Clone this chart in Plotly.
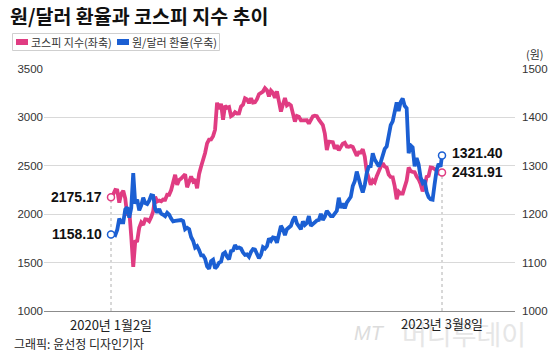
import pandas as pd
import plotly.graph_objects as go

# ---------------- data (weekly readings, 2020-01-02 .. 2023-03-08) ----------------
kospi_2020 = [2175.17, 2206, 2250, 2246, 2119,
              2212, 2243, 2162, 1987,
              2040, 1771, 1457, 1717,
              1725, 1860, 1914, 1889,
              1947, 1945, 1927, 1970, 2030,
              2181, 2132, 2141, 2134,
              2152, 2150, 2201, 2200, 2249,
              2351, 2407, 2304, 2353,
              2368, 2397, 2412, 2278,
              2327, 2391, 2341, 2360, 2267,
              2416, 2493, 2553, 2633,
              2731, 2770, 2772, 2806, 2873]
kospi_2021 = [3152, 3085, 3140, 2976,
              3120, 3100, 3107, 3013,
              3026, 3054, 3039, 3041,
              3112, 3131, 3198, 3186, 3147,
              3197, 3153, 3156, 3188,
              3240, 3249, 3267, 3302,
              3281, 3217, 3276, 3254, 3202,
              3270, 3171, 3060, 3133,
              3201, 3125, 3140, 3125,
              3019, 2956, 3015, 3006, 2970,
              2969, 2968, 2971, 2936,
              2968, 3010, 3017, 3012, 2977]
kospi_2022 = [2954, 2921, 2834, 2663,
              2750, 2747, 2744, 2676,
              2713, 2661, 2707, 2729,
              2739, 2700, 2696, 2704, 2695,
              2644, 2604, 2639, 2638,
              2670, 2595, 2440, 2366,
              2305, 2350, 2330, 2393, 2451,
              2490, 2527, 2492, 2481,
              2409, 2384, 2382, 2290, 2155,
              2232, 2212, 2213, 2268,
              2348, 2483, 2444, 2437,
              2434, 2389, 2360, 2313, 2236]
kospi_2023 = [2289, 2386, 2395, 2484,
              2480, 2469, 2451, 2423,
              2432, 2431.91]

usd_2020 = [1158.10, 1159, 1157, 1168, 1191,
            1183, 1183, 1210, 1214,
            1193, 1213, 1285, 1222,
            1230, 1208, 1218, 1234,
            1223, 1221, 1228, 1239, 1238,
            1211, 1203, 1211, 1201,
            1199, 1196, 1203, 1199, 1191,
            1185, 1186, 1187, 1187,
            1188, 1186, 1169, 1172,
            1169, 1153, 1145, 1131, 1134,
            1126, 1115, 1115, 1108,
            1092, 1087, 1103, 1106, 1088]
usd_2021 = [1092, 1100, 1102, 1118,
            1121, 1112, 1107, 1124,
            1125, 1136, 1130, 1131,
            1129, 1121, 1116, 1117, 1112,
            1122, 1128, 1127, 1115,
            1109, 1116, 1132, 1129,
            1134, 1150, 1145, 1152, 1151,
            1141, 1164, 1176, 1169,
            1157, 1169, 1174, 1176,
            1188, 1195, 1181, 1175, 1169,
            1185, 1178, 1182, 1196,
            1176, 1180, 1184, 1187, 1188]
usd_2022 = [1201, 1188, 1195, 1207,
            1201, 1196, 1196, 1202,
            1207, 1234, 1213, 1222,
            1212, 1224, 1229, 1236, 1258,
            1268, 1288, 1270, 1258,
            1245, 1260, 1285, 1298,
            1299, 1326, 1313, 1305, 1299,
            1307, 1320, 1335, 1340,
            1362, 1384, 1392, 1409, 1431,
            1413, 1432, 1439, 1424,
            1419, 1326, 1342, 1338,
            1299, 1316, 1303, 1276, 1265]
usd_2023 = [1270, 1246, 1235, 1231,
            1230, 1262, 1291, 1304,
            1298, 1321.40]

kospi = kospi_2020 + kospi_2021 + kospi_2022 + kospi_2023
usd = usd_2020 + usd_2021 + usd_2022 + usd_2023

start_date = "2020-01-02"
end_date = "2023-03-08"
fridays = list(pd.date_range("2020-01-03", "2023-03-03", freq="W-FRI"))
dates = [pd.Timestamp(start_date)] + fridays[1:] + [pd.Timestamp(end_date)]
n = min(len(dates), len(kospi), len(usd))
dates, kospi, usd = dates[:n], kospi[:n], usd[:n]

left_ticks = [1000, 1500, 2000, 2500, 3000, 3500]
right_ticks = [1000, 1100, 1200, 1300, 1400, 1500]

kospi_name = "코스피 지수(좌축)"
usd_name = "원/달러 환율(우축)"
title_text = "원/달러 환율과 코스피 지수 추이"

PINK = "#E03C82"
BLUE = "#1B5FD3"

# ---------------- geometry helpers ----------------
W, H = 560, 358
L, R, T, B = 44, 45, 69, 47
PW, PH = W - L - R, H - T - B


def px(X):
    return (X - L) / PW


def py(Y):
    return (H - B - Y) / PH


fig = go.Figure()

fig.add_trace(go.Scatter(x=dates, y=kospi, mode="lines", name=kospi_name,
                         line=dict(color=PINK, width=3.8), yaxis="y",
                         showlegend=False))
fig.add_trace(go.Scatter(x=dates, y=usd, mode="lines", name=usd_name,
                         line=dict(color=BLUE, width=3.8), yaxis="y2",
                         showlegend=False))
# end-point markers
fig.add_trace(go.Scatter(x=[dates[0], dates[-1]], y=[kospi[0], kospi[-1]], mode="markers",
                         marker=dict(size=7, color="white", line=dict(color=PINK, width=1.5)),
                         yaxis="y", showlegend=False, hoverinfo="skip"))
fig.add_trace(go.Scatter(x=[dates[0], dates[-1]], y=[usd[0], usd[-1]], mode="markers",
                         marker=dict(size=7, color="white", line=dict(color=BLUE, width=1.5)),
                         yaxis="y2", showlegend=False, hoverinfo="skip"))

shapes = []
# dashed drop lines
for d, v in [(dates[0], kospi[0]), (dates[-1], kospi[-1])]:
    shapes.append(dict(type="line", xref="x", yref="y", x0=d, x1=d, y0=1000, y1=v,
                       line=dict(color="#b0b0b0", width=1, dash="3px,3px"), layer="below"))
# legend box
shapes.append(dict(type="rect", xref="paper", yref="paper", x0=px(12.5), x1=px(219.5),
                   y0=py(50.5), y1=py(33.5), line=dict(color="#cfcfcf", width=1),
                   fillcolor="white"))
shapes.append(dict(type="rect", xref="paper", yref="paper", x0=px(16), x1=px(28),
                   y0=py(45), y1=py(39), line=dict(width=0), fillcolor=PINK))
shapes.append(dict(type="rect", xref="paper", yref="paper", x0=px(117), x1=px(129),
                   y0=py(45), y1=py(39), line=dict(width=0), fillcolor=BLUE))

KR = "Noto Sans CJK KR"
NUM = "Liberation Sans"

ann = []
# watermark
ann.append(dict(text="<i>MT</i>", xref="paper", yref="paper", x=px(352), y=py(333),
                xanchor="left", yanchor="middle", showarrow=False,
                font=dict(family=NUM, size=20, color="#dcdcdc")))
ann.append(dict(text="머니투데이", xref="paper", yref="paper", x=px(400), y=py(333),
                xanchor="left", yanchor="middle", showarrow=False,
                font=dict(family=KR, size=27, color="#e6e6e6")))
# legend texts
ann.append(dict(text=kospi_name, xref="paper", yref="paper", x=px(29), y=py(42),
                xanchor="left", yanchor="middle", showarrow=False,
                font=dict(family=KR, size=11, color="#333")))
ann.append(dict(text=usd_name, xref="paper", yref="paper", x=px(130), y=py(42),
                xanchor="left", yanchor="middle", showarrow=False,
                font=dict(family=KR, size=11, color="#333")))
# unit
ann.append(dict(text="(원)", xref="paper", yref="paper", x=px(535), y=py(54),
                xanchor="center", yanchor="middle", showarrow=False,
                font=dict(family=KR, size=11, color="#333")))
# value labels
ann.append(dict(text=f"<b>{kospi[0]:.2f}</b>", xref="x", yref="y", x=dates[0], y=kospi[0],
                xanchor="right", yanchor="middle", xshift=-7, showarrow=False,
                font=dict(family=NUM, size=14, color="#111")))
ann.append(dict(text=f"<b>{usd[0]:.2f}</b>", xref="x", yref="y2", x=dates[0], y=usd[0],
                xanchor="right", yanchor="middle", xshift=-7, showarrow=False,
                font=dict(family=NUM, size=14, color="#111")))
ann.append(dict(text=f"<b>{usd[-1]:.2f}</b>", xref="x", yref="y2", x=dates[-1], y=usd[-1],
                xanchor="left", yanchor="middle", xshift=8, yshift=2, showarrow=False,
                font=dict(family=NUM, size=14, color="#111")))
ann.append(dict(text=f"<b>{kospi[-1]:.2f}</b>", xref="x", yref="y", x=dates[-1], y=kospi[-1],
                xanchor="left", yanchor="middle", xshift=8, showarrow=False,
                font=dict(family=NUM, size=14, color="#111")))
# date labels
ann.append(dict(text="2020년 1월2일", xref="x", yref="paper", x=dates[0], y=py(324),
                xanchor="center", yanchor="middle", showarrow=False,
                font=dict(family=KR, size=13, color="#222")))
ann.append(dict(text="2023년 3월8일", xref="x", yref="paper", x=dates[-1], y=py(323),
                xanchor="center", yanchor="middle", showarrow=False,
                font=dict(family=KR, size=13, color="#222")))
# credit
ann.append(dict(text="그래픽: 윤선정 디자인기자", xref="paper", yref="paper", x=px(12), y=py(344),
                xanchor="left", yanchor="middle", showarrow=False,
                font=dict(family=KR, size=12, color="#222")))

fig.update_layout(
    width=W, height=H,
    margin=dict(l=L, r=R, t=T, b=B),
    paper_bgcolor="white", plot_bgcolor="white",
    title=dict(text=f"<b>{title_text}</b>", x=10 / W, xref="container", xanchor="left",
               y=1 - 17 / H, yref="container", yanchor="middle",
               font=dict(family=KR, size=19.5, color="#111")),
    xaxis=dict(type="date", range=["2019-05-12", "2023-11-19"], showgrid=False,
               showticklabels=False, ticks="", zeroline=False,
               showline=True, linecolor="#8c8c8c", linewidth=1),
    yaxis=dict(range=[1000, 3500], tickvals=left_ticks, ticktext=[str(v) for v in left_ticks],
               showgrid=True, gridcolor="#d9d9d9", gridwidth=1, zeroline=False,
               ticks="", showline=False,
               tickfont=dict(family=NUM, size=11.5, color="#333")),
    yaxis2=dict(range=[1000, 1500], tickvals=right_ticks, ticktext=[str(v) for v in right_ticks],
                overlaying="y", side="right", showgrid=False, zeroline=False,
                ticks="", showline=False, ticklabelstandoff=6,
                tickfont=dict(family=NUM, size=11.5, color="#333")),
    shapes=shapes,
    annotations=ann,
    showlegend=False,
)

fig.write_html("out.html", config={"displayModeBar": False},
               post_script="document.body.style.margin='0';document.body.style.padding='0';")
